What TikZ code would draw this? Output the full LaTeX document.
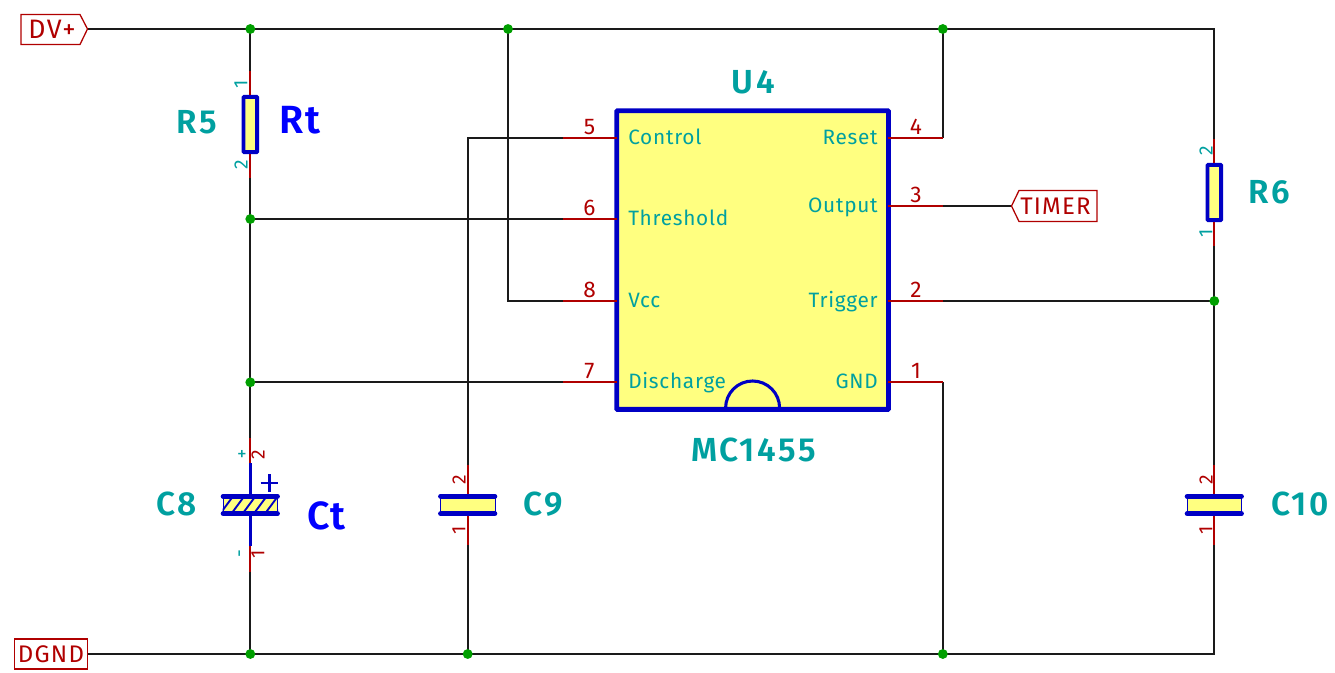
\documentclass[tikz,border=0pt]{standalone}
\usepackage{fontspec}
\setmainfont{Fira Sans}
\newfontfamily\pinfont[LetterSpace=3.5]{Fira Sans}
\newfontfamily\numfont{Fira Sans}
\newfontfamily\flagfont[LetterSpace=5]{Fira Sans}
\newfontfamily\labfont[LetterSpace=8,BoldFont={Fira Sans SemiBold}]{Fira Sans}
\newfontfamily\valfont[LetterSpace=4,BoldFont={Fira Sans SemiBold}]{Fira Sans}
\definecolor{wirek}{HTML}{1A1A1A}
\definecolor{pinred}{HTML}{B00000}
\definecolor{bodyblue}{HTML}{0000C4}
\definecolor{fillyel}{HTML}{FFFF80}
\definecolor{txteal}{HTML}{00A0A0}
\definecolor{jgreen}{HTML}{009F00}
\tikzset{
  wire/.style={draw=wirek,line width=1.3pt},
  pinline/.style={draw=pinred,line width=1.25pt},
  junction/.style={circle,fill=jgreen,draw=none,minimum size=7.4pt,inner sep=0pt},
  icbody/.style={draw=bodyblue,fill=fillyel,line width=3.7pt,rounded corners=0.6pt,minimum width=203.8pt,minimum height=224pt,inner sep=0pt},
  resbody/.style={draw=bodyblue,fill=fillyel,line width=2.9pt,rounded corners=0.5pt,minimum width=10.2pt,minimum height=41.5pt,inner sep=0pt},
  capbody/.style={draw=bodyblue,fill=fillyel,line width=0.7pt,minimum width=41pt,minimum height=12.4pt,inner sep=0pt},
  plate/.style={draw=bodyblue,line width=3.7pt,line cap=round},
  bluestem/.style={draw=bodyblue,line width=2.6pt},
  pinname/.style={text=txteal,font=\pinfont\fontsize{15.6}{16}\selectfont,inner sep=0pt},
  pinnum/.style={text=pinred,font=\numfont\fontsize{17}{18}\selectfont,inner sep=0pt},
  sidenum/.style={text=pinred,font=\numfont\fontsize{14.5}{15}\selectfont,inner sep=0pt,rotate=90},
  tealnum/.style={sidenum,text=txteal},
  reflabel/.style={text=txteal,font=\labfont\bfseries\fontsize{25}{26}\selectfont,inner sep=0pt},
  vallabel/.style={text=blue,font=\valfont\bfseries\fontsize{29.5}{30}\selectfont,inner sep=0pt},
  flagtext/.style={text=pinred,font=\flagfont\fontsize{18}{19}\selectfont,inner sep=0pt},
  flag/.style={draw=pinred,line width=0.95pt,line join=miter},
}
\begin{document}
\begin{tikzpicture}[x=0.75pt,y=-0.75pt]
\useasboundingbox (0,0) rectangle (1335,673);
% wire corners, junction positions and free pin ends
\coordinate (fDVp) at (87.5,29);
\coordinate (fDGND) at (87.5,654);
\coordinate (fTIMER) at (1011.5,206);
\coordinate (jTopA) at (250.3,29);
\coordinate (jTopB) at (508,29);
\coordinate (jTopC) at (942.8,29);
\coordinate (cTopD) at (1214.3,29);
\coordinate (jThr) at (250.3,219);
\coordinate (jDis) at (250.3,382.3);
\coordinate (jTrig) at (1214.3,301);
\coordinate (jBotA) at (250.3,654);
\coordinate (jBotB) at (467.7,654);
\coordinate (jBotC) at (942.8,654);
\coordinate (cBotD) at (1214.3,654);
% IC
\node[icbody] (U4) at (752.6,260.1) {};
% IC pins: outer ends
\coordinate (p5o) at (563,137.7);
\coordinate (p6o) at (563,219);
\coordinate (p8o) at (563,301);
\coordinate (p7o) at (563,382.3);
\coordinate (p4o) at (942.8,137.7);
\coordinate (p3o) at (942.8,206);
\coordinate (p2o) at (942.8,301);
\coordinate (p1o) at (942.8,382.3);
\coordinate (p5i) at (617,137.7);
\coordinate (p6i) at (617,219);
\coordinate (p8i) at (617,301);
\coordinate (p7i) at (617,382.3);
\coordinate (p4i) at (888,137.7);
\coordinate (p3i) at (888,206);
\coordinate (p2i) at (888,301);
\coordinate (p1i) at (888,382.3);
% passive bodies
\node[resbody] (R5b) at (250.3,124.5) {};
\node[resbody] (R6b) at (1214.3,192.5) {};
\node[capbody] (C8b) at (250.3,505) {};
\node[capbody] (C9b) at (467.7,505) {};
\node[capbody] (C10b) at (1214.3,505) {};
% passive pin ends
\coordinate (R5t) at (250.3,71);
\coordinate (R5u) at (250.3,178);
\coordinate (R6t) at (1214.3,139);
\coordinate (R6u) at (1214.3,246);
\coordinate (C8t) at (250.3,438);
\coordinate (C8u) at (250.3,572);
\coordinate (C8st) at (250.3,463);
\coordinate (C8su) at (250.3,546);
\coordinate (C9t) at (467.7,465);
\coordinate (C9u) at (467.7,545);
\coordinate (C10t) at (1214.3,465);
\coordinate (C10u) at (1214.3,545);
% wires
\draw[wire] (fDVp) -- (jTopA) -- (jTopB) -- (jTopC) -- (cTopD) -- (R6t);
\draw[wire] (fDGND) -- (jBotA) -- (jBotB) -- (jBotC) -- (cBotD) -- (C10u);
\draw[wire] (jTopA) -- (R5t);
\draw[wire] (R5u) -- (jThr) -- (jDis) -- (C8t);
\draw[wire] (C8u) -- (jBotA);
\draw[wire] (jThr) -- (p6o);
\draw[wire] (jDis) -- (p7o);
\draw[wire] (jTopB) |- (p8o);
\draw[wire] (p5o) -| (C9t);
\draw[wire] (C9u) -- (jBotB);
\draw[wire] (jTopC) -- (p4o);
\draw[wire] (p3o) -- (fTIMER);
\draw[wire] (p2o) -- (jTrig);
\draw[wire] (p1o) -- (jBotC);
\draw[wire] (R6u) -- (jTrig) -- (C10t);
% IC pins
\foreach \a/\b in {p5o/p5i,p6o/p6i,p8o/p8i,p7o/p7i,p4o/p4i,p3o/p3i,p2o/p2i,p1o/p1i}
  \draw[pinline] (\a) -- (\b);
% passive pins
\draw[pinline] (R5t) -- (R5b.north);
\draw[pinline] (R5u) -- (R5b.south);
\draw[pinline] (R6t) -- (R6b.north);
\draw[pinline] (R6u) -- (R6b.south);
\draw[pinline] (C8t) -- (C8st);
\draw[pinline] (C8u) -- (C8su);
\draw[pinline] (C9t) -- (C9b.north);
\draw[pinline] (C9u) -- (C9b.south);
\draw[pinline] (C10t) -- (C10b.north);
\draw[pinline] (C10u) -- (C10b.south);
\draw[bluestem] (C8st) -- (C8b.north);
\draw[bluestem] (C8su) -- (C8b.south);
% notch
\draw[draw=bodyblue,line width=2.3pt] (725.6,408) arc[start angle=180,end angle=360,radius=27];
% C8 hatch
\begin{scope}
\clip (C8b.north west) rectangle (C8b.south east);
\foreach \h in {0,...,5}
  \draw[draw=bodyblue,line width=1.4pt] (217+\h*11.2,518) -- (234+\h*11.2,495);
\end{scope}
% capacitor plates
\foreach \n in {C8b,C9b,C10b} {
  \draw[plate] ([xshift=0.5pt]\n.north west) -- ([xshift=-0.5pt]\n.north east);
  \draw[plate] ([xshift=0.5pt]\n.south west) -- ([xshift=-0.5pt]\n.south east);
}
% polarity plus
\coordinate (plusL) at (260.7,483);
\coordinate (plusR) at (278.3,483);
\coordinate (plusT) at (269.5,474.2);
\coordinate (plusB) at (269.5,491.8);
\draw[draw=bodyblue,line width=2pt] (plusL) -- (plusR);
\draw[draw=bodyblue,line width=2pt] (plusT) -- (plusB);
% junctions
\foreach \j in {jTopA,jTopB,jTopC,jThr,jDis,jTrig,jBotA,jBotB,jBotC}
  \node[junction] (N\j) at (\j) {};
% hierarchical flags
\draw[flag] (21,14.5) -- (80,14.5) -- (fDVp) -- (80,44.5) -- (21,44.5) -- cycle;
\node[flagtext,anchor=center,font=\flagfont\fontsize{20}{21}\selectfont] (tDVp) at (52,29.5) {DV+};
\draw[flag] (14.5,639) -- (87.5,639) -- (fDGND) -- (87.5,669) -- (14.5,669) -- cycle;
\node[flagtext,anchor=center] (tDGND) at (51,654.5) {DGND};
\draw[flag] (fTIMER) -- (1019,190.5) -- (1097,190.5) -- (1097,221.5) -- (1019,221.5) -- cycle;
\node[flagtext,anchor=center] (tTIMER) at (1055.5,206) {TIMER};
% pin names
\node[pinname,anchor=base west] (n5) at (628,145) {Control};
\node[pinname,anchor=base west] (n6) at (628,226) {Threshold};
\node[pinname,anchor=base west] (n8) at (628,308) {Vcc};
\node[pinname,anchor=base west] (n7) at (628,389) {Discharge};
\node[pinname,anchor=base east] (n4) at (878,145) {Reset};
\node[pinname,anchor=base east] (n3) at (878,213) {Output};
\node[pinname,anchor=base east] (n2) at (878,308) {Trigger};
\node[pinname,anchor=base east] (n1) at (878,389) {GND};
% pin numbers
\node[pinnum,anchor=base] (m5) at (589.5,135) {5};
\node[pinnum,anchor=base] (m6) at (589.5,216) {6};
\node[pinnum,anchor=base] (m8) at (589.5,298) {8};
\node[pinnum,anchor=base] (m7) at (589.5,379) {7};
\node[pinnum,anchor=base] (m4) at (916,135) {4};
\node[pinnum,anchor=base] (m3) at (916,203) {3};
\node[pinnum,anchor=base] (m2) at (916,298) {2};
\node[pinnum,anchor=base] (m1) at (916,379) {1};
% small passive pin numbers
\node[tealnum] (r51) at (241,84) {1};
\node[tealnum] (r52) at (241,165) {2};
\node[tealnum] (r62) at (1206,151) {2};
\node[tealnum] (r61) at (1206,233) {1};
\node[sidenum] (c82) at (258,455) {2};
\node[sidenum] (c81) at (258,554) {1};
\node[tealnum,rotate=-90] (c8p) at (242,455) {+};
\node[tealnum] (c8m) at (242,554) {-};
\node[sidenum] (c92) at (459,480) {2};
\node[sidenum] (c91) at (459,530) {1};
\node[sidenum] (c102) at (1206,480) {2};
\node[sidenum] (c101) at (1206,530) {1};
% reference labels
\node[reflabel,anchor=base] (lU4) at (753.5,94) {U4};
\node[reflabel,anchor=base] (lMC) at (753.5,461) {MC1455};
\node[reflabel,anchor=base] (lR5) at (197,134) {R5};
\node[reflabel,anchor=base] (lR6) at (1269,204) {R6};
\node[reflabel,anchor=base] (lC8) at (177,515) {C8};
\node[reflabel,anchor=base] (lC9) at (543,515) {C9};
\node[reflabel,anchor=base] (lC10) at (1300,515) {C10};
\node[vallabel,anchor=base] (lRt) at (300,134) {Rt};
\node[vallabel,anchor=base] (lCt) at (326.5,529) {Ct};
\end{tikzpicture}
\end{document}
